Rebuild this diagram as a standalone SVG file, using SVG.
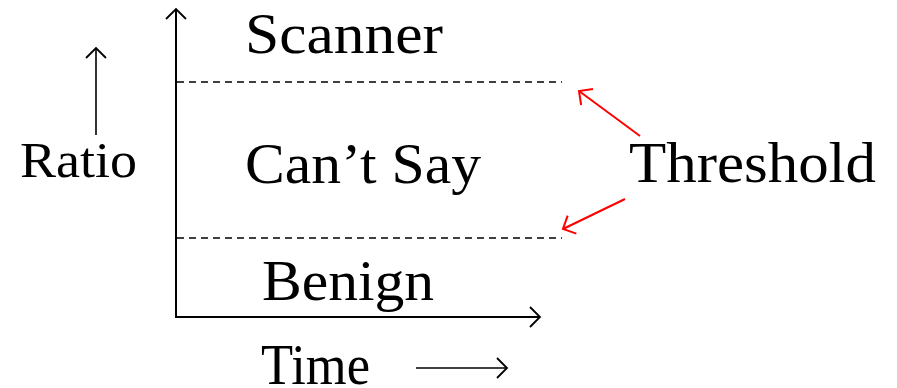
<svg xmlns="http://www.w3.org/2000/svg" width="897" height="388" viewBox="0 0 897 388">
<style>
text{font-family:"Liberation Serif","Times New Roman",serif;fill:#000}
.big{font-size:56px}
.ax{stroke:#000;stroke-width:2;fill:none}
.thin{stroke:#000;stroke-width:1.6;fill:none}
.dash{stroke:#000;stroke-width:1.6;stroke-dasharray:7 5;fill:none}
.red{stroke:#f00;stroke-width:2;fill:none}
</style>
<defs>
<marker id="hb" viewBox="-12 -12 14 24" markerWidth="14" markerHeight="24" refX="0" refY="0" orient="auto" markerUnits="userSpaceOnUse">
<path d="M-10,-10 L0,0 L-10,10" stroke="#000" stroke-width="1.8" fill="none"/>
</marker>
<marker id="hr" viewBox="-12 -12 14 24" markerWidth="14" markerHeight="24" refX="0" refY="0" orient="auto" markerUnits="userSpaceOnUse">
<path d="M-10,-10 L0,0 L-10,10" stroke="#f00" stroke-width="2" fill="none"/>
</marker>
</defs>
<g id="connectors">
<line class="ax" x1="176" y1="317" x2="176" y2="9" marker-end="url(#hb)"/>
<line class="ax" x1="175" y1="317" x2="540" y2="317" marker-end="url(#hb)"/>
<line class="dash" x1="177" y1="82" x2="562" y2="82"/>
<line class="dash" x1="177" y1="238" x2="562" y2="238"/>
<line class="thin" x1="96" y1="135" x2="96" y2="48" marker-end="url(#hb)"/>
<line class="thin" x1="416" y1="368" x2="507" y2="368" marker-end="url(#hb)"/>
<line class="red" x1="640" y1="136" x2="579" y2="91" marker-end="url(#hr)"/>
<line class="red" x1="625" y1="199" x2="563" y2="229" marker-end="url(#hr)"/>
</g>
<g id="ratio"><text x="20" y="177" font-size="50" textLength="117" lengthAdjust="spacingAndGlyphs">Ratio</text></g>
<g id="scanner"><text class="big" x="245" y="53" textLength="198" lengthAdjust="spacingAndGlyphs">Scanner</text></g>
<g id="cantsay"><text class="big" x="245" y="183" textLength="236" lengthAdjust="spacingAndGlyphs">Can’t Say</text></g>
<g id="benign"><text class="big" x="262" y="300" textLength="172" lengthAdjust="spacingAndGlyphs">Benign</text></g>
<g id="time"><text class="big" x="261" y="384" textLength="109" lengthAdjust="spacingAndGlyphs">Time</text></g>
<g id="threshold"><text class="big" x="629" y="182" textLength="247" lengthAdjust="spacingAndGlyphs">Threshold</text></g>
</svg>
